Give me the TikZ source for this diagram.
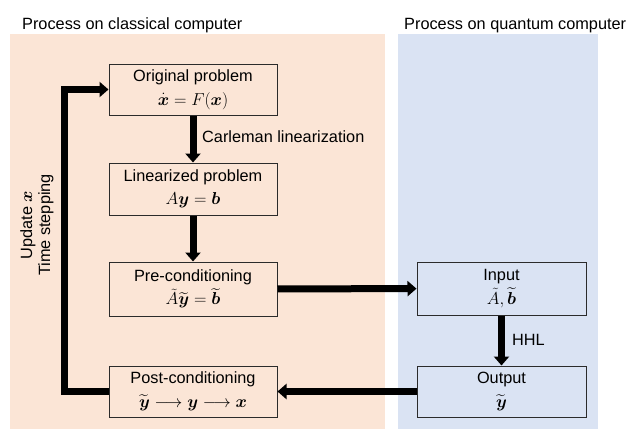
\documentclass[tikz,border=0pt]{standalone}
\usepackage{fontspec}
\usepackage{amsmath,amssymb}
\setmainfont{Liberation Sans}
\usetikzlibrary{arrows.meta}

\definecolor{classicalbg}{HTML}{FBE5D6}
\definecolor{quantumbg}{HTML}{DAE3F3}
\definecolor{boxline}{HTML}{2B2B2B}

\tikzset{
  stepbox/.style={draw=boxline, line width=1pt, minimum width=168pt,
    inner sep=0pt, align=center, font=\fontsize{16.3}{23.5}\selectfont},
  fat/.style={line width=7pt, -{Triangle[width=15pt,length=9pt]}},
  lbl/.style={font=\fontsize{16.3}{19}\selectfont, inner sep=0pt},
}

\begin{document}
\begin{tikzpicture}[x=1pt,y=-1pt]
  \useasboundingbox (0,0) rectangle (632,429);

  % background panels
  \fill[classicalbg] (10,34) rectangle (385,429);
  \fill[quantumbg] (398,34) rectangle (598,429);

  % panel titles
  \node[lbl, anchor=base west] (tclass) at (22,29) {Process on classical computer};
  \node[lbl, anchor=base west] (tquant) at (404,29) {Process on quantum computer};

  % classical steps
  \node[stepbox, minimum height=51pt] (orig) at (193,89.5)
    {Original problem\\ $\dot{\boldsymbol{x}} = F(\boldsymbol{x})$};
  \node[stepbox, minimum height=52pt] (lin) at (193,189)
    {Linearized problem\\ $A\boldsymbol{y} = \boldsymbol{b}$};
  \node[stepbox, minimum height=54pt] (pre) at (193,289)
    {Pre-conditioning\\ $\tilde{A}\widetilde{\boldsymbol{y}} = \widetilde{\boldsymbol{b}}$};
  \node[stepbox, minimum height=51pt] (post) at (193,391.5)
    {Post-conditioning\\ $\widetilde{\boldsymbol{y}} \longrightarrow \boldsymbol{y} \longrightarrow \boldsymbol{x}$};

  % quantum steps
  \node[stepbox, minimum width=169pt, minimum height=53pt] (inp) at (501.5,288.5)
    {Input\\ $\tilde{A}, \widetilde{\boldsymbol{b}}$};
  \node[stepbox, minimum width=169pt, minimum height=51pt] (out) at (501.5,391.5)
    {Output\\ $\widetilde{\boldsymbol{y}}$};

  % flow
  \draw[fat] (orig) -- (lin);
  \draw[fat] (lin) -- (pre);
  \draw[fat] (pre) -- (inp);
  \draw[fat] (inp) -- (out);
  \draw[fat] (out) -- (post);
  \draw[fat] (post.west) -- ++(-44,0) |- (orig.west);

  % edge labels
  \node[lbl, anchor=west] (carl) at (202,137) {Carleman linearization};
  \node[lbl, anchor=west] (hhl) at (512,340) {HHL};
  \node[lbl, rotate=90, align=center, font=\fontsize{16.3}{18}\selectfont] (upd) at (37,225)
    {Update $\boldsymbol{x}$\\ Time stepping};
\end{tikzpicture}
\end{document}
